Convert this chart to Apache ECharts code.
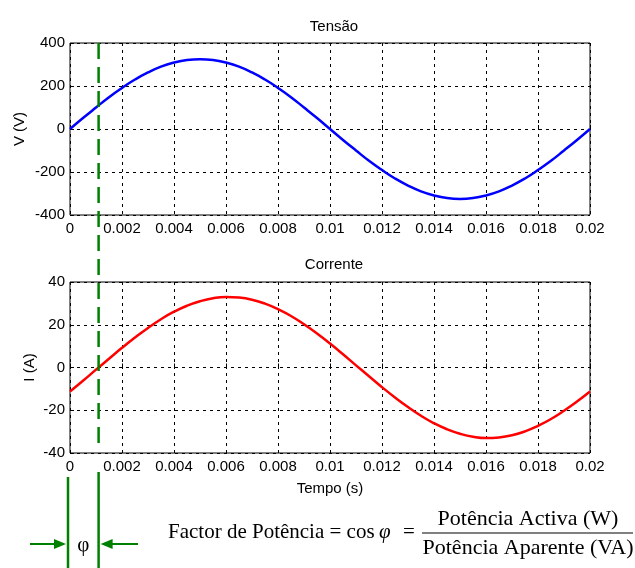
<!DOCTYPE html>
<html>
<head>
<meta charset="utf-8">
<script src="https://cdn.jsdelivr.net/npm/echarts@6/dist/echarts.min.js"></script>
<style>
  html, body { margin: 0; padding: 0; background: #fff; }
  #chart { width: 635px; height: 568px; }
</style>
</head>
<body>
<div id="chart"></div>
<script>
// sample times (s)
var tempo = [0, 0.0005, 0.001, 0.0015, 0.002, 0.0025, 0.003, 0.0035, 0.004, 0.0045,
	0.005, 0.0055, 0.006, 0.0065, 0.007, 0.0075, 0.008, 0.0085, 0.009, 0.0095,
	0.01, 0.0105, 0.011, 0.0115, 0.012, 0.0125, 0.013, 0.0135, 0.014, 0.0145,
	0.015, 0.0155, 0.016, 0.0165, 0.017, 0.0175, 0.018, 0.0185, 0.019, 0.0195, 0.02];
// voltage (V)
var tensao = [0, 51, 100, 148, 191, 230, 263, 290, 309, 321,
	325, 321, 309, 290, 263, 230, 191, 148, 100, 51,
	0, -51, -100, -148, -191, -230, -263, -290, -309, -321,
	-325, -321, -309, -290, -263, -230, -191, -148, -100, -51, 0];
// current (A)
var corrente = [-11.2, -6.2, -1.0, 4.1, 9.2, 14.0, 18.5, 22.6, 26.1, 28.9,
	31.0, 32.4, 33.0, 32.7, 31.7, 29.9, 27.3, 24.1, 20.2, 15.9,
	11.2, 6.2, 1.0, -4.1, -9.2, -14.0, -18.5, -22.6, -26.1, -28.9,
	-31.0, -32.4, -33.0, -32.7, -31.7, -29.9, -27.3, -24.1, -20.2, -15.9, -11.2];
var faseT = 0.0011; // time of current zero crossing (phase marker)

var font = 'Liberation Sans, Arial, sans-serif';
var serif = 'Liberation Serif, Times New Roman, serif';
var verde = '#008000';

function pares(ys) {
	var out = [];
	for (var i = 0; i < tempo.length; i++) out.push([tempo[i], ys[i]]);
	return out;
}

function eixoX(idx, nome) {
	return {
		type: 'value', gridIndex: idx, min: 0, max: 0.02, interval: 0.002,
		name: nome, nameLocation: 'middle', nameGap: 28,
		nameTextStyle: { fontFamily: font, fontSize: 15, color: '#000' },
		axisLine: { show: false },
		axisTick: { show: true, inside: true, length: 4, lineStyle: { color: '#000' } },
		axisLabel: {
			fontFamily: font, fontSize: 15, color: '#000', margin: 6,
			formatter: function (v) { return String(+v.toFixed(4)); }
		},
		splitLine: { show: true, lineStyle: { color: '#000', type: [3, 4], width: 1 } }
	};
}

function eixoY(idx, min, max, step, nome, gap) {
	return {
		type: 'value', gridIndex: idx, min: min, max: max, interval: step,
		name: nome, nameLocation: 'middle', nameGap: gap, nameRotate: 90,
		nameMoveOverlap: false,
		nameTextStyle: { fontFamily: font, fontSize: 15, color: '#000' },
		axisLine: { show: false, onZero: false },
		axisTick: { show: true, inside: true, length: 4, lineStyle: { color: '#000' } },
		axisLabel: { fontFamily: font, fontSize: 15, color: '#000', margin: 5 },
		splitLine: { show: true, lineStyle: { color: '#000', type: [3, 4], width: 1 } }
	};
}

var myChart = echarts.init(document.getElementById('chart'));
myChart.setOption({
	backgroundColor: '#fff',
	animation: false,
	title: [
		{ text: 'Tensão', left: 329, top: 14, textAlign: 'center',
		  textStyle: { fontFamily: font, fontSize: 15, fontWeight: 'normal', color: '#000' } },
		{ text: 'Corrente', left: 329, top: 252, textAlign: 'center',
		  textStyle: { fontFamily: font, fontSize: 15, fontWeight: 'normal', color: '#000' } }
	],
	grid: [
		{ left: 70, top: 43, width: 520, height: 172, show: true, borderColor: '#000', borderWidth: 1, backgroundColor: '#fff' },
		{ left: 70, top: 282, width: 520, height: 171, show: true, borderColor: '#000', borderWidth: 1, backgroundColor: '#fff' }
	],
	xAxis: [eixoX(0, ''), eixoX(1, 'Tempo (s)')],
	yAxis: [eixoY(0, -400, 400, 200, 'V (V)', 43), eixoY(1, -40, 40, 20, 'I (A)', 33)],
	series: [
		{ name: 'Tensão', type: 'line', xAxisIndex: 0, yAxisIndex: 0, data: pares(tensao),
		  smooth: true, showSymbol: false, lineStyle: { color: '#0000ff', width: 2.5 } },
		{ name: 'Corrente', type: 'line', xAxisIndex: 1, yAxisIndex: 1, data: pares(corrente),
		  smooth: true, showSymbol: false, lineStyle: { color: '#ff0000', width: 2.5 } }
	]
});

// phase marker and formula, placed from the axis scales
var x0 = myChart.convertToPixel({ xAxisIndex: 0 }, 0) - 2;
var xf = myChart.convertToPixel({ xAxisIndex: 0 }, faseT);
var yTopo = myChart.convertToPixel({ yAxisIndex: 0 }, 400);
var yFim = myChart.convertToPixel({ yAxisIndex: 1 }, -36);
var ySeta = 544;

myChart.setOption({
	graphic: [
		{ type: 'line', z: 100, shape: { x1: xf, y1: yTopo, x2: xf, y2: yFim },
		  style: { stroke: verde, lineWidth: 2.5, lineDash: [16, 8] } },
		{ type: 'line', z: 100, shape: { x1: x0, y1: 477, x2: x0, y2: 568 },
		  style: { stroke: verde, lineWidth: 2.5 } },
		{ type: 'line', z: 100, shape: { x1: xf, y1: 472, x2: xf, y2: 568 },
		  style: { stroke: verde, lineWidth: 2.5 } },
		// left arrow
		{ type: 'line', z: 100, shape: { x1: 30, y1: ySeta, x2: x0 - 10, y2: ySeta },
		  style: { stroke: verde, lineWidth: 2 } },
		{ type: 'polygon', z: 100, shape: { points: [[x0 - 2, ySeta], [x0 - 14, ySeta - 5], [x0 - 14, ySeta + 5]] },
		  style: { fill: verde } },
		// right arrow
		{ type: 'line', z: 100, shape: { x1: xf + 10, y1: ySeta, x2: 138, y2: ySeta },
		  style: { stroke: verde, lineWidth: 2 } },
		{ type: 'polygon', z: 100, shape: { points: [[xf + 2, ySeta], [xf + 14, ySeta - 5], [xf + 14, ySeta + 5]] },
		  style: { fill: verde } },
		{ type: 'text', z: 100, style: { text: 'φ', x: (x0 + xf) / 2, y: ySeta + 1, align: 'center', verticalAlign: 'middle',
		  font: '21px ' + serif, fill: '#000' } },
		// formula
		{ type: 'text', z: 100, style: { text: 'Factor de Potência = cos', x: 168, y: 532, align: 'left', verticalAlign: 'middle',
		  font: '21px ' + serif, fill: '#000' } },
		{ type: 'text', z: 100, style: { text: 'φ', x: 379, y: 532, align: 'left', verticalAlign: 'middle',
		  font: 'italic 21px ' + serif, fill: '#000' } },
		{ type: 'text', z: 100, style: { text: '=', x: 403, y: 532, align: 'left', verticalAlign: 'middle',
		  font: '21px ' + serif, fill: '#000' } },
		{ type: 'text', z: 100, style: { text: 'Potência Activa (W)', x: 528, y: 519, align: 'center', verticalAlign: 'middle',
		  font: '22px ' + serif, fill: '#000' } },
		{ type: 'line', z: 100, shape: { x1: 422, y1: 533, x2: 633, y2: 533 },
		  style: { stroke: '#000', lineWidth: 1 } },
		{ type: 'text', z: 100, style: { text: 'Potência Aparente (VA)', x: 528, y: 548, align: 'center', verticalAlign: 'middle',
		  font: '22px ' + serif, fill: '#000' } }
	]
});
</script>
</body>
</html>
